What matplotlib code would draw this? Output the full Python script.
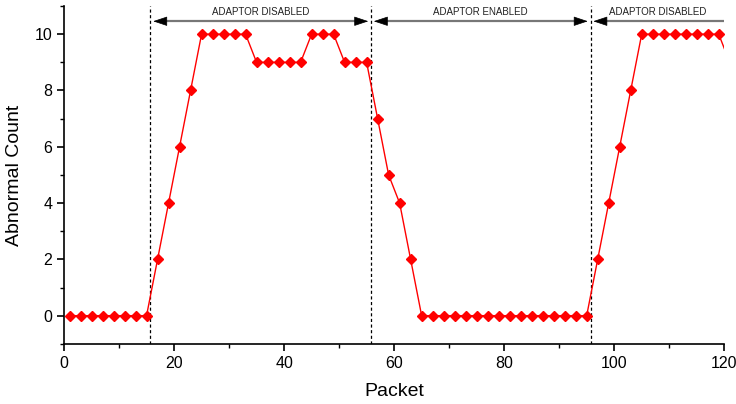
import matplotlib
matplotlib.use("Agg")
import matplotlib.pyplot as plt
from matplotlib.ticker import MultipleLocator

plt.rcParams['font.family'] = ['Liberation Sans', 'DejaVu Sans']

packets = list(range(1, 122, 2))
counts = ([0] * 8 +
          [2, 4, 6, 8, 10, 10, 10, 10, 10, 9, 9, 9, 9, 9, 10, 10, 10, 9, 9, 9] +
          [7, 5, 4, 2] +
          [0] * 16 +
          [2, 4, 6, 8] +
          [10] * 8 +
          [9])

boundaries = [15.7, 55.8, 95.7]
phase_labels = ["ADAPTOR DISABLED", "ADAPTOR ENABLED", "ADAPTOR DISABLED"]
phase_spans = [(15.7, 55.8), (55.8, 95.7), (95.7, 120)]

fig = plt.figure(figsize=(7.36, 4.04), dpi=100)
ax = fig.add_axes([0.087, 0.149, 0.897, 0.836])

ax.plot(packets, counts, color='#ff0000', lw=1.0, marker='D', ms=5.5,
        mec='#ff0000', mfc='#ff0000', clip_on=True, zorder=3)

for b in boundaries:
    ax.axvline(b, color='black', ls=(0, (2.5, 2)), lw=0.9, zorder=2)


def head(tip, tail, y):
    ax.annotate('', xy=(tip, y), xytext=(tail, y),
                arrowprops=dict(arrowstyle='-|>,head_length=0.9,head_width=0.3',
                                color='black', lw=0.5, mutation_scale=10,
                                shrinkA=0, shrinkB=0), zorder=5)


ya = 10.46
for i, ((x0, x1), lab) in enumerate(zip(phase_spans, phase_labels)):
    g0 = x0 + 0.5
    g1 = x1 - 0.5 if i < 2 else x1
    ax.plot([g0 + 1, g1 - (1 if i < 2 else 0)], [ya, ya], color='#777777', lw=1.6,
            solid_capstyle='butt', zorder=4)
    head(g0, g0 + 2, ya)
    if i < 2:
        head(g1, g1 - 2, ya)
    ax.text((x0 + x1) / 2, 10.6, lab, ha='center', va='bottom', fontsize=7, color='#222222')

ax.set_xlim(0, 120)
ax.set_ylim(-1, 11)
ax.xaxis.set_major_locator(MultipleLocator(20))
ax.xaxis.set_minor_locator(MultipleLocator(10))
ax.yaxis.set_minor_locator(MultipleLocator(1))
ax.set_yticks([0, 2, 4, 6, 8, 10])

for s in ['top', 'right']:
    ax.spines[s].set_visible(False)
for s in ['left', 'bottom']:
    ax.spines[s].set_linewidth(1.2)

ax.tick_params(which='major', direction='out', length=5, width=1.2, labelsize=11.5)
ax.tick_params(which='minor', direction='out', length=3, width=1.0)

ax.set_xlabel('Packet', fontsize=14, labelpad=9)
ax.set_ylabel('Abnormal Count', fontsize=14, labelpad=8)

fig.savefig('out.png', dpi=100)
